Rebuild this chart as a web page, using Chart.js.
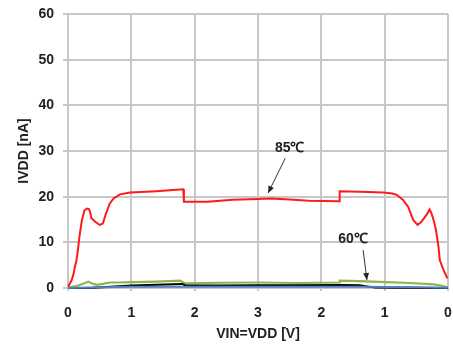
<!DOCTYPE html>
<html>
<head>
<meta charset="utf-8">
<script src="https://cdn.jsdelivr.net/npm/chart.js@4/dist/chart.umd.min.js"></script>
<style>
  html, body { margin: 0; padding: 0; background: #ffffff; }
  #wrap { width: 453px; height: 346px; }
</style>
</head>
<body>
<div id="wrap"><canvas id="c" width="453" height="346"></canvas></div>
<script>
// Sweep position (0..6): voltage rises 0 -> 3 V, then falls back to 0 V
const xTickLabels = ['0', '1', '2', '3', '2', '1', '0'];

// 85 °C supply current [nA]
const t85X = [0, 0.03, 0.06, 0.09, 0.11, 0.13, 0.15, 0.18, 0.22, 0.26, 0.30, 0.33, 0.35, 0.37, 0.43, 0.50, 0.55, 0.60, 0.66, 0.72, 0.82, 0.98, 1.4, 1.6, 1.82, 1.83, 2.2, 2.6, 3.0, 3.2, 3.5, 3.8, 4.28, 4.29, 4.6, 4.98, 5.12, 5.19, 5.29, 5.37, 5.45, 5.52, 5.58, 5.66, 5.71, 5.74, 5.78, 5.81, 5.85, 5.87, 5.93, 5.99];
const t85Y = [0.3, 1.0, 1.8, 3.2, 4.7, 5.8, 7.6, 11.2, 14.9, 17.0, 17.4, 17.3, 16.6, 15.3, 14.5, 13.8, 14.1, 16.3, 18.5, 19.6, 20.5, 20.9, 21.2, 21.4, 21.6, 18.9, 18.9, 19.3, 19.5, 19.6, 19.4, 19.1, 19.0, 21.2, 21.1, 20.9, 20.7, 20.4, 19.3, 17.8, 14.9, 13.8, 14.5, 16.0, 17.2, 16.3, 14.5, 12.7, 9.0, 6.1, 3.9, 2.1];

// Green trace
const tGreenX = [0, 0.15, 0.25, 0.32, 0.38, 0.45, 0.55, 0.66, 0.8, 1.03, 1.4, 1.77, 1.85, 2.4, 3.0, 3.6, 4.28, 4.29, 4.6, 5.03, 5.4, 5.77, 5.9, 6.0];
const tGreenY = [0.1, 0.5, 1.0, 1.4, 1.0, 0.7, 0.9, 1.2, 1.2, 1.3, 1.4, 1.6, 1.0, 1.15, 1.2, 1.1, 1.2, 1.6, 1.5, 1.3, 1.1, 0.8, 0.5, 0.15];

// 60 °C (black trace)
const t60X = [0, 0.4, 0.6, 0.8, 1.0, 1.4, 1.8, 1.85, 2.4, 3.0, 3.6, 4.3, 4.6, 4.75, 4.85, 5.2, 6.0];
const t60Y = [0, 0.05, 0.2, 0.4, 0.55, 0.7, 0.9, 0.6, 0.55, 0.6, 0.6, 0.65, 0.6, 0.3, 0.1, 0.05, 0];

// Blue trace
const tBlueX = [0, 0.3, 1.0, 2.0, 3.0, 4.0, 4.6, 5.5, 6.0];
const tBlueY = [0, 0.1, 0.25, 0.3, 0.3, 0.3, 0.25, 0.15, 0.05];

// Callout labels with arrows (data coordinates)
const calloutText = ['85℃', '60℃'];
const calloutTextX = [3.5, 4.5];
const calloutTextY = [30.6, 10.7];
const arrowFromX = [3.43, 4.66];
const arrowFromY = [28.4, 8.3];
const arrowToX = [3.16, 4.72];
const arrowToY = [20.8, 1.75];

const toPoints = (xs, ys) => xs.map((x, i) => ({ x: x, y: ys[i] }));

const FONT = "'Liberation Sans', Arial, sans-serif";

const calloutPlugin = {
  id: 'callouts',
  afterDatasetsDraw(chart) {
    const { ctx, scales: { x, y } } = chart;
    ctx.save();
    for (let i = 0; i < calloutText.length; i++) {
      const fx = x.getPixelForValue(arrowFromX[i]);
      const fy = y.getPixelForValue(arrowFromY[i]);
      const tx = x.getPixelForValue(arrowToX[i]);
      const ty = y.getPixelForValue(arrowToY[i]);
      ctx.strokeStyle = '#333333';
      ctx.fillStyle = '#222222';
      ctx.lineWidth = 1;
      ctx.beginPath();
      ctx.moveTo(fx, fy);
      ctx.lineTo(tx, ty);
      ctx.stroke();
      const ang = Math.atan2(ty - fy, tx - fx);
      const len = 7, wid = 3;
      ctx.beginPath();
      ctx.moveTo(tx, ty);
      ctx.lineTo(tx - len * Math.cos(ang) + wid * Math.sin(ang), ty - len * Math.sin(ang) - wid * Math.cos(ang));
      ctx.lineTo(tx - len * Math.cos(ang) - wid * Math.sin(ang), ty - len * Math.sin(ang) + wid * Math.cos(ang));
      ctx.closePath();
      ctx.fill();
      ctx.font = 'bold 14px ' + FONT;
      ctx.fillStyle = '#222222';
      ctx.textAlign = 'center';
      ctx.textBaseline = 'middle';
      ctx.fillText(calloutText[i], x.getPixelForValue(calloutTextX[i]), y.getPixelForValue(calloutTextY[i]));
    }
    ctx.restore();
  }
};

new Chart(document.getElementById('c'), {
  type: 'line',
  data: {
    datasets: [
      { label: '85℃', data: toPoints(t85X, t85Y), borderColor: '#ff1a1a', borderWidth: 2, order: 0 },
      { label: 'green', data: toPoints(tGreenX, tGreenY), borderColor: '#8fb350', borderWidth: 2.2, order: 3 },
      { label: '60℃', data: toPoints(t60X, t60Y), borderColor: '#000000', borderWidth: 2, order: 2 },
      { label: 'blue', data: toPoints(tBlueX, tBlueY), borderColor: '#4f81bd', borderWidth: 2, order: 1 }
    ]
  },
  options: {
    responsive: false,
    animation: false,
    layout: { padding: { top: 14, right: 5, left: 0, bottom: 0 } },
    elements: { point: { radius: 0 }, line: { tension: 0, fill: false } },
    datasets: { line: { clip: 4 } },
    plugins: { legend: { display: false }, tooltip: { enabled: false } },
    scales: {
      x: {
        type: 'linear',
        min: 0, max: 6,
        afterFit(s) { s.height = 58; s.paddingLeft = 0; s.paddingRight = 0; },
        grid: { color: '#c8c8c8', lineWidth: 2, tickLength: 3, drawTicks: true },
        border: { display: false },
        ticks: {
          stepSize: 1,
          color: '#222222',
          font: { family: FONT, size: 14, weight: 'bold' },
          padding: 14,
          callback: (v) => xTickLabels[v]
        },
        title: {
          display: true, text: 'VIN=VDD [V]', color: '#222222',
          font: { family: FONT, size: 14, weight: 'bold' },
          padding: { top: 0, bottom: 3 }
        }
      },
      y: {
        min: 0, max: 60,
        afterFit(s) { s.width = 68; s.paddingTop = 0; s.paddingBottom = 0; },
        grid: { color: '#c8c8c8', lineWidth: 2, tickLength: 5 },
        border: { display: false },
        ticks: {
          stepSize: 10,
          color: '#222222',
          font: { family: FONT, size: 14, weight: 'bold' },
          padding: 9
        },
        title: {
          display: true, text: 'IVDD [nA]', color: '#222222',
          font: { family: FONT, size: 14, weight: 'bold' },
          padding: { top: 16, bottom: 0 }
        }
      }
    }
  },
  plugins: [calloutPlugin]
});
</script>
</body>
</html>
